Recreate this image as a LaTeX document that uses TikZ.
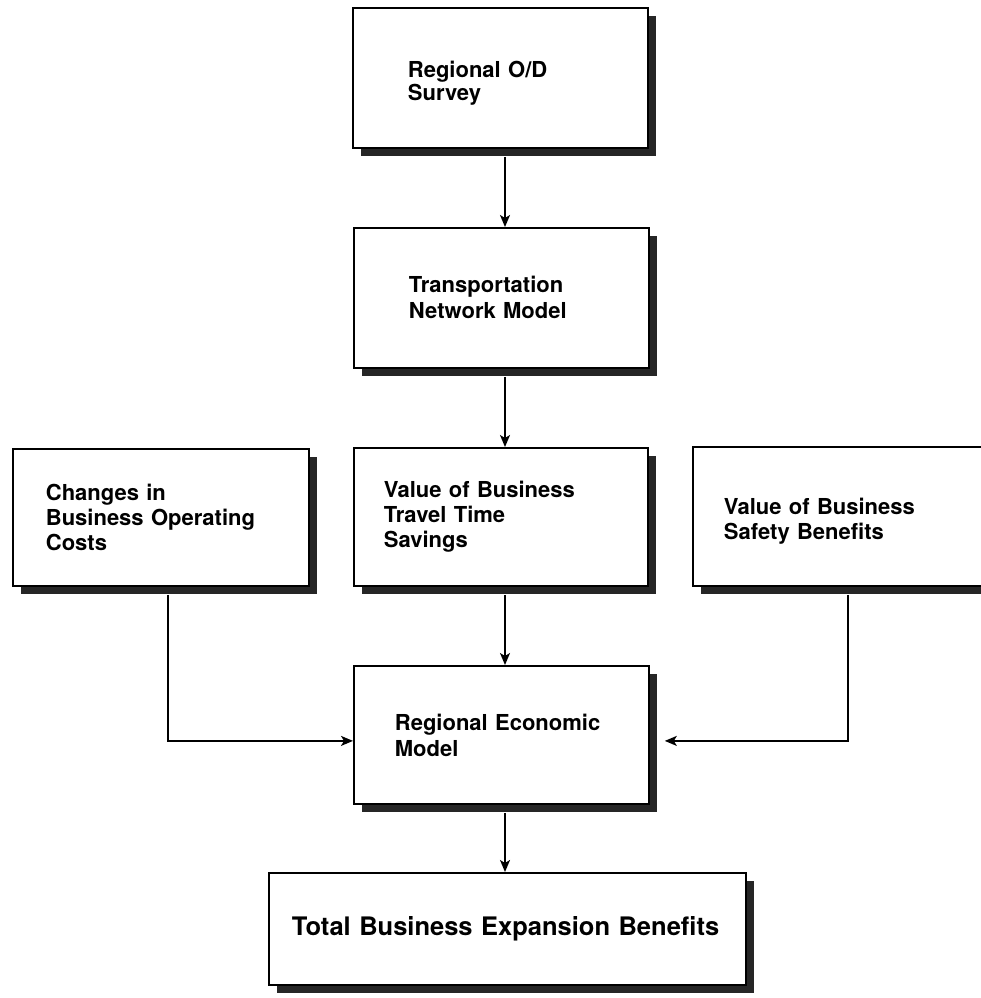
\documentclass[tikz,border=0pt]{standalone}
\usepackage{fontspec}
\setmainfont{TeX Gyre Heros}
\usetikzlibrary{shadows,arrows.meta,calc}
\tikzset{
  sbox/.style={draw=black, line width=1.8pt, fill=white, anchor=north west,
    align=left, inner ysep=0pt,
    drop shadow={shadow xshift=8pt, shadow yshift=-8pt, fill=black!85, opacity=1},
    font=\fontsize{22}{25}\selectfont\bfseries},
  arr/.style={line width=1.6pt, -{Stealth[length=12pt, width=10pt, inset=3pt]}}
}
\begin{document}
\begin{tikzpicture}[x=1pt, y=-1pt]
\useasboundingbox (0,0) rectangle (981,998);
% boxes
\node[sbox, text width=185pt, inner xsep=55pt, minimum height=140pt,
  font=\fontsize{22}{21}\selectfont\bfseries] (ods) at (352,7)
  {\rule{0pt}{27pt}Regional O/D\\Survey};
\node[sbox, text width=185pt, inner xsep=55pt, minimum height=140pt,
  font=\fontsize{22}{26}\selectfont\bfseries] (tnm) at (353,227)
  {Transportation\\Network Model};
\node[sbox, text width=230pt, inner xsep=33pt, minimum height=137pt] (lb) at (12,448)
  {Changes in\\Business Operating\\Costs};
\node[sbox, text width=234pt, inner xsep=30pt, minimum height=138pt] (mb) at (353,447)
  {Value of Business\\Travel Time\\Savings};
\node[sbox, text width=241pt, inner xsep=31pt, minimum height=139pt] (rb) at (692,446)
  {\rule{0pt}{26pt}Value of Business\\Safety Benefits};
\node[sbox, text width=213pt, inner xsep=41pt, minimum height=138pt,
  font=\fontsize{22}{26}\selectfont\bfseries] (rem) at (353,665)
  {Regional Economic\\Model};
\node[sbox, text width=431pt, inner xsep=23pt, minimum height=112pt,
  font=\fontsize{25.5}{30}\selectfont\bfseries] (tot) at (268,872)
  {Total Business Expansion Benefits};
% connectors
\coordinate (cx) at (505,0);
\draw[arr] (cx |- ods.south) ++(0,8) -- (cx |- tnm.north);
\draw[arr] (cx |- tnm.south) ++(0,8) -- (cx |- mb.north);
\draw[arr] (cx |- mb.south) ++(0,8) -- (cx |- rem.north);
\draw[arr] (cx |- rem.south) ++(0,8) -- (cx |- tot.north);
\draw[arr] ($(lb.south west)+(156,8)$) |- ($(rem.west)+(0,6)$);
\draw[arr] ($(rb.south west)+(156,8)$) |- ($(rem.east)+(15,6)$);
\end{tikzpicture}
\end{document}
